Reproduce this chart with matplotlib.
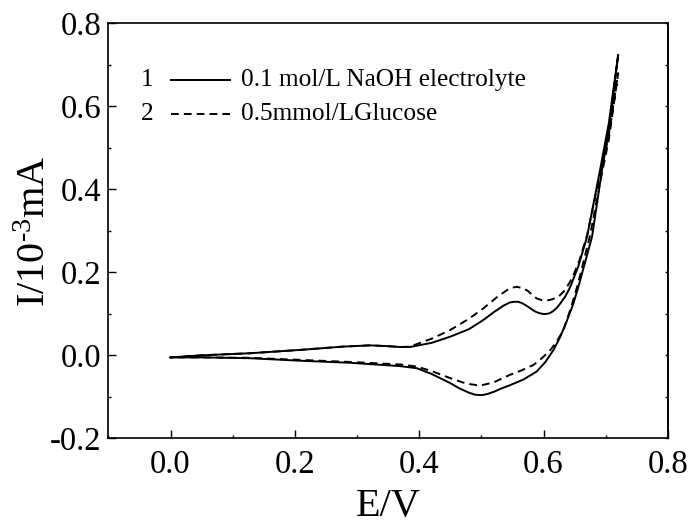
import matplotlib
matplotlib.use("Agg")
import matplotlib.pyplot as plt
from matplotlib.ticker import MultipleLocator, NullFormatter

plt.rcParams['font.family'] = ['Liberation Serif', 'DejaVu Serif']
plt.rcParams['mathtext.fontset'] = 'custom'
plt.rcParams['mathtext.rm'] = 'Liberation Serif'
plt.rcParams['mathtext.it'] = 'Liberation Serif:italic'

# Curve 1: 0.1 mol/L NaOH electrolyte (forward scan then reverse scan)
e1_fwd = [0.0, 0.05, 0.128, 0.208, 0.278, 0.321, 0.35, 0.369, 0.385, 0.42, 0.45, 0.48, 0.503,
          0.52, 0.536, 0.545, 0.552, 0.559, 0.565, 0.572, 0.579, 0.586, 0.592, 0.598, 0.603,
          0.609, 0.615, 0.621, 0.627, 0.635, 0.643, 0.656, 0.67, 0.69, 0.705, 0.72]
i1_fwd = [-0.005, 0.0, 0.005, 0.013, 0.021, 0.024, 0.022, 0.020, 0.020, 0.030, 0.045, 0.063, 0.085,
          0.104, 0.120, 0.127, 0.129, 0.129, 0.126, 0.120, 0.113, 0.106, 0.102, 0.100, 0.0995,
          0.101, 0.106, 0.114, 0.125, 0.142, 0.165, 0.215, 0.286, 0.44, 0.56, 0.724]
e1_rev = [0.72, 0.705, 0.694, 0.678, 0.656, 0.648, 0.638, 0.627, 0.616, 0.603, 0.589, 0.568,
          0.546, 0.532, 0.52, 0.51, 0.501, 0.49, 0.48, 0.465, 0.45, 0.42, 0.396, 0.369,
          0.289, 0.208, 0.128, 0.05, 0.0]
i1_rev = [0.724, 0.54, 0.447, 0.286, 0.165, 0.125, 0.085, 0.045, 0.013, -0.016, -0.039, -0.058,
          -0.072, -0.080, -0.088, -0.093, -0.096, -0.095, -0.090, -0.080, -0.067, -0.045,
          -0.031, -0.026, -0.018, -0.013, -0.007, -0.005, -0.005]

# Curve 2: 0.5 mmol/L glucose
e2_fwd = [0.0, 0.05, 0.128, 0.208, 0.278, 0.321, 0.35, 0.369, 0.385, 0.42, 0.45, 0.48, 0.503,
          0.525, 0.541, 0.549, 0.557, 0.566, 0.575, 0.582, 0.589, 0.597, 0.605, 0.614, 0.624,
          0.635, 0.646, 0.658, 0.67, 0.69, 0.705, 0.72]
i2_fwd = [-0.005, 0.0, 0.005, 0.013, 0.021, 0.024, 0.022, 0.020, 0.021, 0.040, 0.061, 0.088, 0.113,
          0.140, 0.157, 0.163, 0.165, 0.162, 0.155, 0.145, 0.137, 0.133, 0.132, 0.135, 0.141,
          0.158, 0.186, 0.23, 0.29, 0.43, 0.53, 0.68]
e2_rev = [0.72, 0.705, 0.69, 0.675, 0.655, 0.643, 0.632, 0.621, 0.611, 0.598, 0.584, 0.565,
          0.546, 0.52, 0.498, 0.475, 0.45, 0.42, 0.396, 0.369, 0.289, 0.208, 0.128, 0.05, 0.0]
i2_rev = [0.68, 0.52, 0.41, 0.29, 0.17, 0.11, 0.061, 0.033, 0.013, -0.006, -0.023, -0.036,
          -0.047, -0.065, -0.073, -0.068, -0.055, -0.038, -0.027, -0.022, -0.016, -0.011,
          -0.006, -0.005, -0.005]

legend_labels = ['0.1 mol/L NaOH electrolyte', '0.5mmol/LGlucose']
legend_nums = ['1', '2']

fig = plt.figure(figsize=(6.9, 5.29), dpi=100)
ax = fig.add_axes([0.157, 0.1714, 0.811, 0.7846])

lw = 1.4
dash = (0, (4, 2.6))
ax.plot(e1_fwd + e1_rev, i1_fwd + i1_rev, color='black', lw=lw, solid_joinstyle='round')
ax.plot(e2_fwd + e2_rev, i2_fwd + i2_rev, color='black', lw=lw, linestyle=dash)

ax.set_xlim(-0.1, 0.8)
ax.set_ylim(-0.2, 0.8)
ax.xaxis.set_major_locator(MultipleLocator(0.2))
ax.xaxis.set_minor_locator(MultipleLocator(0.1))
ax.yaxis.set_major_locator(MultipleLocator(0.2))
ax.yaxis.set_minor_locator(MultipleLocator(0.1))
ax.xaxis.set_major_formatter(plt.FormatStrFormatter('%.1f'))
ax.yaxis.set_major_formatter(plt.FormatStrFormatter('%.1f'))

for s in ax.spines.values():
    s.set_linewidth(1.2)

ax.tick_params(which='major', direction='in', length=6, width=1.0, labelsize=23.5,
               top=False, right=False)
ax.tick_params(which='minor', direction='in', length=2.5, width=1.0, top=False, right=False)
ax.tick_params(axis='x', which='major', pad=8)
ax.tick_params(axis='y', which='major', pad=5)

# short ticks on the right spine
sec = ax.secondary_yaxis('right')
sec.yaxis.set_major_locator(MultipleLocator(0.1))
sec.yaxis.set_major_formatter(NullFormatter())
sec.tick_params(direction='in', length=2.5, width=1.0)
sec.spines['right'].set_linewidth(1.2)

ax.set_xlabel('E/V', fontsize=29, labelpad=6)
ax.set_ylabel(r'I/10$^{\text{-3}}$mA', fontsize=29, labelpad=-3)

# legend drawn in axes coordinates
rows_y = [0.864, 0.782]
for k in range(2):
    y = rows_y[k]
    ax.text(0.069, y, legend_nums[k], transform=ax.transAxes, fontsize=18.3,
            ha='center', va='center')
    ax.plot([0.112, 0.218], [y, y], transform=ax.transAxes, color='black', lw=lw,
            linestyle='-' if k == 0 else dash)
    ax.text(0.237, y, legend_labels[k], transform=ax.transAxes, fontsize=18.3,
            ha='left', va='center')

fig.savefig('out.png', dpi=100)
